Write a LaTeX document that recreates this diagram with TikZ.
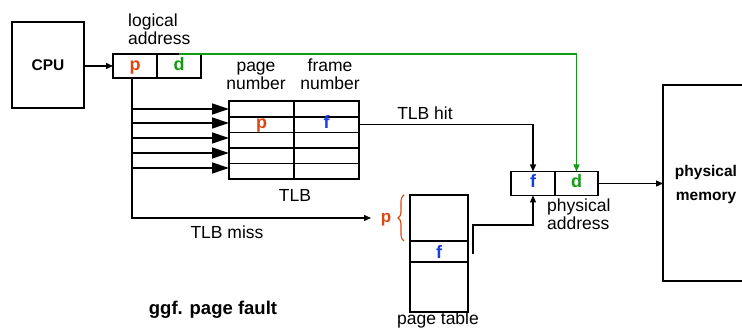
\documentclass[tikz,border=0pt]{standalone}
\usepackage{fontspec}
\setmainfont{Liberation Sans}
\usetikzlibrary{arrows.meta,decorations.pathreplacing,calc}
\definecolor{cred}{RGB}{222,70,18}
\definecolor{cgreen}{RGB}{20,155,20}
\definecolor{cblue}{RGB}{25,60,220}
\begin{document}
\begin{tikzpicture}[x=1pt,y=-1pt,
  box/.style={draw,line width=1.6pt,inner sep=0pt,outer sep=0pt},
  cell/.style={box,minimum width=44pt,minimum height=24pt,font=\fontsize{18}{18}\selectfont\bfseries,text height=13pt,text depth=4pt},
  tcell/.style={box,minimum width=65pt,minimum height=15.6pt,font=\fontsize{18}{18}\selectfont\bfseries,text height=10pt,text depth=2pt},
  lbl/.style={font=\fontsize{17.5}{18}\selectfont,inner sep=0pt},
  blbl/.style={font=\fontsize{15.5}{24}\selectfont\bfseries,inner sep=0pt,align=center},
  conn/.style={line width=1.3pt},
  arr/.style={conn,-{Triangle[length=7pt,width=6pt]}},
  bigarr/.style={conn,-{Triangle[length=17pt,width=11pt]}}]
\useasboundingbox (0,0) rectangle (742,328);

% CPU
\node[box,minimum width=72pt,minimum height=86pt,font=\fontsize{15.5}{18}\selectfont\bfseries] (cpu) at (48,65) {CPU};

% logical address
\node[cell,text=cred] (lp) at (135,66) {p};
\node[cell,text=cgreen] (ld) at (179,66) {d};
\node[lbl,align=left,anchor=west] (la) at (128,29) {logical\\address};

% TLB
\node[tcell] (ta1) at (261.5,109) {};
\node[tcell] (tb1) at (326.5,109) {};
\node[tcell,text=cred] (ta2) at (261.5,124.6) {p};
\node[tcell,text=cblue] (tb2) at (326.5,124.6) {f};
\node[tcell] (ta3) at (261.5,140.2) {};
\node[tcell] (tb3) at (326.5,140.2) {};
\node[tcell] (ta4) at (261.5,155.8) {};
\node[tcell] (tb4) at (326.5,155.8) {};
\node[tcell] (ta5) at (261.5,171.4) {};
\node[tcell] (tb5) at (326.5,171.4) {};
\node[lbl,align=center] (pn) at (256,76) {page\\number};
\node[lbl,align=center] (fn) at (330,74) {frame\\number};
\node[lbl] (tlb) at (295,195) {TLB};

% physical address
\node[cell,text=cblue] (paf) at (533,183.5) {f};
\node[cell,text=cgreen,minimum width=43pt] (pad) at (576.5,183.5) {d};
\node[lbl,align=left,anchor=west] (pal) at (547,214) {physical\\address};

% page table
\node[box,minimum width=58pt,minimum height=46pt] (pt1) at (439,218) {};
\node[box,minimum width=58pt,minimum height=21pt,text=cblue,font=\fontsize{18}{18}\selectfont\bfseries,text height=15pt,text depth=0pt] (ptf) at (439,251.5) {f};
\node[box,minimum width=58pt,minimum height=50pt] (pt3) at (439,287) {};
\node[lbl] (ptl) at (438,320) {page table};
\draw[cred,line width=1.1pt,decorate,decoration={brace,amplitude=6pt}] (404,241) -- (404,195);
\node[lbl,text=cred,font=\fontsize{17}{18}\selectfont\bfseries] (pp) at (386,220) {p};

% physical memory
\node[box,minimum width=110pt,minimum height=196pt,anchor=west] (mem) at (663,183) {};
\node[blbl] (meml) at (706,184) {physical\\memory};

% other labels
\node[lbl] (hit) at (425,113) {TLB hit};
\node[lbl] (miss) at (227,232) {TLB miss};
\node[font=\fontsize{18.5}{20}\selectfont\bfseries,inner sep=0pt] (pf) at (213,310) {ggf. page fault};

% connectors
\draw[arr] (cpu.east|-lp.west) -- (lp.west);
\draw[conn,cgreen,-{Triangle[length=7pt,width=6pt]}] (ld.north) -| (pad.north);
\coordinate (tr) at ($(lp.south)+(-3,0)$);
\coordinate (mt) at (371,218);
\draw[arr] (tr) |- (mt);
\foreach \i/\y in {1/109,2/123,3/138,4/153,5/168} {
  \coordinate (a\i) at (229,\y);
  \draw[bigarr] (tr|-a\i) -- (a\i);
}
\draw[arr] (tb2.east) -| (paf.north);
\coordinate (q1) at (473,254);
\coordinate (q2) at (473,225);
\draw[arr] (q1) -- (q2) -| (paf.south);
\draw[arr] (pad.east) -- (pad.east-|mem.west);
\end{tikzpicture}
\end{document}
